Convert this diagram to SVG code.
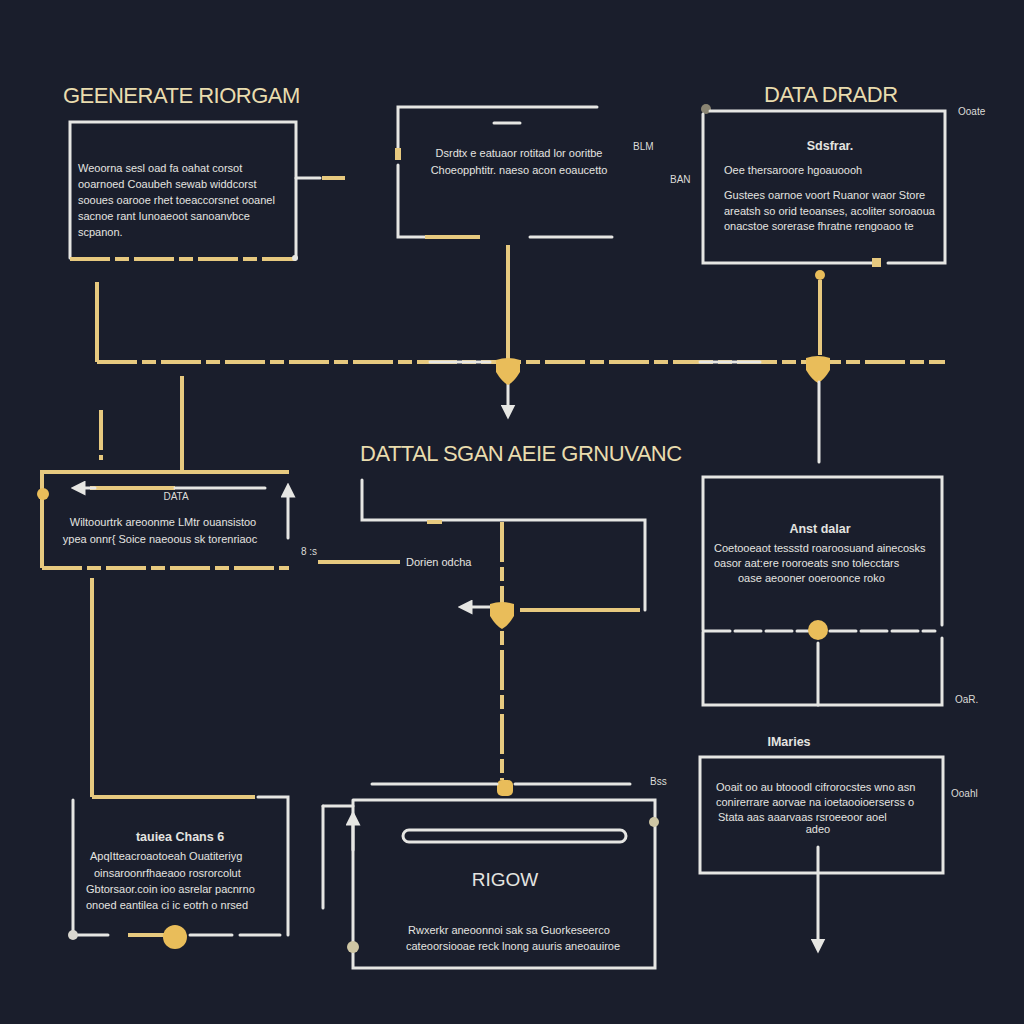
<svg xmlns="http://www.w3.org/2000/svg" width="1024" height="1024" viewBox="0 0 1024 1024">
<style>
.w{stroke:#e6e6e3;stroke-width:3;fill:none;stroke-linecap:round}
.g{stroke:#e7c97f;stroke-width:4;fill:none}
.gd{stroke:#e7c97f;stroke-width:4;fill:none;stroke-dasharray:40 5 14 5}
.ttl{font-family:"Liberation Sans",Arial,sans-serif;font-size:22px;fill:#e9dcae;letter-spacing:-0.5px}
.tx{font-family:"Liberation Sans",Arial,sans-serif;font-size:11px;fill:#e4e4e0}
.hd{font-family:"Liberation Sans",Arial,sans-serif;font-size:12.5px;font-weight:bold;fill:#e4e4e0}
.sm{font-family:"Liberation Sans",Arial,sans-serif;font-size:10px;fill:#dcdcd8}
.gdot{fill:#e9bd5a}
</style>
<defs>
<marker id="ah" viewBox="0 0 10 10" refX="5" refY="5" markerWidth="5" markerHeight="5" orient="auto-start-reverse"><path d="M0,0L10,5L0,10z" fill="#e6e6e3"/></marker>
<path id="shield" d="M-12,-10 Q0,-14 12,-10 L12,2 Q6,12 0,15 Q-6,12 -12,2 Z" fill="#e9bd5a"/>
</defs>
<rect width="1024" height="1024" fill="#1a1e2c"/>

<text class="ttl" x="63" y="103">GEENERATE RIORGAM</text>
<text class="ttl" x="764" y="102">DATA DRADR</text>
<text class="ttl" x="360" y="461">DATTAL SGAN AEIE GRNUVANC</text>

<g id="connectors">
<path class="gd" d="M97,362 H945"/>
<path class="w" d="M430,362 H490 M700,362 H760"/>
<path class="g" d="M97,282 V362"/>
<path class="g" d="M508,245 V362"/>
<path class="w" d="M508,370 V412" marker-end="url(#ah)"/>
<use href="#shield" x="508" y="370"/>
<circle class="gdot" cx="820" cy="275" r="5"/>
<path class="g" d="M820,280 V355"/>
<use href="#shield" x="818" y="368"/>
<path class="w" d="M819,382 V462"/>
<path class="w" d="M296,178 H320"/>
<path class="g" d="M322,178 H345" stroke-width="6"/>
<path class="g" d="M182,376 V470"/>
<path class="gd" d="M101,410 V460"/>
<path class="g" d="M318,562 H400"/>
<path class="w" d="M362,480 V520 H645 V610"/>
<path class="g" d="M427,522 H442" stroke-width="7"/>
<path class="g" d="M520,610 H640"/>
<path class="w" d="M490,607 H465" marker-end="url(#ah)"/>
<path class="gd" d="M502,522 V780"/>
<use href="#shield" x="502" y="614"/>
<rect x="497" y="780" width="16" height="16" rx="5" fill="#e9bd5a"/>
<path class="g" d="M92,578 V797"/>
<path class="w" d="M372,784 H497 M515,784 H630" stroke-width="2"/>
<path class="w" d="M323,806 V908" stroke-width="1.5"/>
<path class="w" d="M323,806 H353" stroke-width="1.5"/>
<path class="w" d="M818,847 V946" marker-end="url(#ah)"/>
</g>

<g id="n1">
<path class="w" d="M70,258 V122 H296 V258"/>
<path class="gd" d="M70,259 H296"/>
<circle cx="295" cy="258" r="3" fill="#e6e6e3"/>
<text class="tx" x="78" y="172">Weoorna sesl  oad  fa  oahat corsot</text>
<text class="tx" x="78" y="188">ooarnoed  Coaubeh  sewab widdcorst</text>
<text class="tx" x="78" y="204">sooues  oarooe  rhet  toeaccorsnet  ooanel</text>
<text class="tx" x="78" y="220">sacnoe  rant  Iunoaeoot  sanoanvbce</text>
<text class="tx" x="78" y="236">scpanon.</text>
</g>

<g id="n2">
<path class="w" d="M398,155 V107 H597"/>
<path class="w" d="M398,165 V237 H425"/>
<path class="g" d="M425,237 H480"/>
<path class="w" d="M530,237 H612"/>
<rect x="395" y="148" width="6" height="12" fill="#e7c97f"/>
<path class="w" d="M494,123 H520" stroke-width="1"/>
<text class="tx" x="519" y="157" text-anchor="middle">Dsrdtx  e eatuaor  rotitad  lor  ooritbe</text>
<text class="tx" x="519" y="174" text-anchor="middle">Choeopphtitr.  naeso  acon  eoaucetto</text>
<text class="sm" x="633" y="150">BLM</text>
<text class="sm" x="670" y="183">BAN</text>
</g>

<g id="n3">
<circle cx="706" cy="109" r="5" fill="#8a8472"/>
<path class="w" d="M703,114 V263 H872 M888,263 H945 V111 H710"/>
<rect x="872" y="258" width="9" height="9" fill="#e7c97f"/>
<text class="hd" x="830" y="150" text-anchor="middle">Sdsfrar.</text>
<text class="tx" x="724" y="174">Oee  thersaroore  hgoauoooh</text>
<text class="tx" x="724" y="199">Gustees  oarnoe  voort Ruanor  waor  Store</text>
<text class="tx" x="724" y="215">areatsh so  orid  teoanses,  acoliter  soroaoua</text>
<text class="tx" x="724" y="230">onacstoe  sorerase  fhratne  rengoaoo  te</text>
<text class="sm" x="958" y="115">Ooate</text>
</g>

<g id="n4">
<path class="g" d="M42,568 V472 H289"/>
<path class="gd" d="M42,568 H289"/>
<circle class="gdot" cx="43" cy="494" r="6"/>
<path class="g" d="M90,488 H175"/>
<path class="w" d="M175,488 H265"/>
<path class="w" d="M95,488 H78" marker-end="url(#ah)"/>
<path class="w" d="M288,538 V490" marker-end="url(#ah)"/>
<text class="sm" x="176" y="500" text-anchor="middle" font-size="7">DATA</text>
<text class="tx" x="163" y="526" text-anchor="middle">Wiltoourtrk  areoonme  LMtr  ouansistoo</text>
<text class="tx" x="160" y="543" text-anchor="middle">ypea  onnr{ Soice  naeoous  sk  torenriaoc</text>
<text class="sm" x="301" y="555" font-size="7">8 :s</text>
<text class="tx" x="406" y="566">Dorien odcha</text>
</g>

<g id="n5">
<path class="w" d="M703,630 V477 H942 V625"/>
<path class="w" d="M703,632 V705 H942 V638"/>
<path class="w" d="M704,631 H808 M830,631 H935" stroke-dasharray="26 5"/>
<circle class="gdot" cx="818" cy="630" r="10"/>
<path class="w" d="M818,643 V705"/>
<text class="hd" x="820" y="533" text-anchor="middle">Anst dalar</text>
<text class="tx" x="714" y="552">Coetooeaot  tessstd  roaroosuand  ainecosks</text>
<text class="tx" x="714" y="567">oasor  aat:ere  rooroeats  sno  tolecctars</text>
<text class="tx" x="738" y="582">oase  aeooner  ooeroonce  roko</text>
<text class="sm" x="955" y="703">OaR.</text>
</g>

<g id="n6">
<path class="g" d="M92,797 H255"/>
<path class="w" d="M258,797 H288 V935"/>
<path class="w" d="M73,800 V930"/>
<path class="w" d="M78,935 H108"/>
<path class="g" d="M128,935 H170"/>
<path class="w" d="M190,935 H232 M240,935 H280"/>
<circle cx="73" cy="935" r="5" fill="#d9d7cf"/>
<circle class="gdot" cx="175" cy="937" r="12"/>
<text class="hd" x="180" y="841" text-anchor="middle" font-weight="normal">tauiea Chans 6</text>
<text class="tx" x="90" y="860">ApqItteacroaotoeah  Ouatiteriyg</text>
<text class="tx" x="94" y="877">oinsaroonrfhaeaoo  rosrorcolut</text>
<text class="tx" x="86" y="893">Gbtorsaor.coin  ioo  asrelar  pacnrno</text>
<text class="tx" x="86" y="909">onoed  eantilea  ci  ic  eotrh o  nrsed</text>
</g>

<g id="n7">
<path class="w" d="M353,800 H655 V968 H353 V800"/>
<rect x="403" y="830" width="223" height="12" rx="6" class="w"/>
<circle cx="353" cy="947" r="6" fill="#cfc6a4"/>
<circle cx="654" cy="822" r="5" fill="#cfc6a4"/>
<path class="w" d="M353,850 V818" marker-end="url(#ah)"/>
<text x="505" y="886" text-anchor="middle" font-family="Liberation Sans,Arial,sans-serif" font-size="19" fill="#e4e4e0">RIGOW</text>
<text class="tx" x="408" y="934">Rwxerkr  aneoonnoi  sak  sa  Guorkeseerco</text>
<text class="tx" x="406" y="950">cateoorsiooae  reck  lnong  auuris  aneoauiroe</text>
<text class="sm" x="650" y="785" font-size="7">Bss</text>
</g>

<g id="n8">
<path class="w" d="M700,757 H943 V873 H700 Z"/>
<text class="hd" x="789" y="746" text-anchor="middle" font-weight="normal">IMaries</text>
<text class="tx" x="716" y="791">Ooait  oo  au  btooodl  cifrorocstes  wno  asn</text>
<text class="tx" x="716" y="806">conirerrare  aorvae  na  ioetaooioerserss o</text>
<text class="tx" x="718" y="821">Stata  aas  aaarvaas  rsroeeoor  aoel</text>
<text class="tx" x="818" y="833" text-anchor="middle">adeo</text>
<text class="sm" x="951" y="797">Ooahl</text>
</g>
</svg>
